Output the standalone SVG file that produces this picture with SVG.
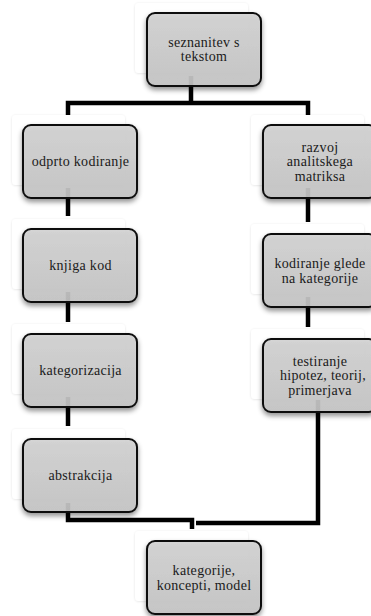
<svg xmlns="http://www.w3.org/2000/svg" width="371" height="616" viewBox="0 0 371 616">
<defs>
<linearGradient id="g" x1="0" y1="0" x2="0" y2="1">
<stop offset="0" stop-color="#d3d3d3"/>
<stop offset="1" stop-color="#c5c5c5"/>
</linearGradient>
<filter id="sh" x="-20%" y="-20%" width="140%" height="150%">
<feDropShadow dx="0" dy="3" stdDeviation="2.5" flood-color="#000" flood-opacity="0.45"/>
</filter>
<filter id="csh" x="-20%" y="-20%" width="140%" height="140%">
<feDropShadow dx="0" dy="0.5" stdDeviation="1.2" flood-color="#000" flood-opacity="0.12"/>
</filter>
</defs>
<style>
.card{fill:#ffffff;filter:url(#csh)}
.box{fill:url(#g);fill-opacity:0.9;stroke:#111;stroke-width:2;filter:url(#sh)}
text{font-family:'Liberation Serif','DejaVu Serif',serif;font-size:14px;letter-spacing:0.3px;fill:#1a1a1a;text-anchor:middle}
.con{fill:none;stroke:#000;stroke-width:4.5;stroke-linejoin:miter;stroke-linecap:butt}
</style>
<rect width="371" height="616" fill="#fff"/>
<g id="connectors">
<path class="con" d="M191,76 V103"/>
<path class="con" d="M68,115 V103 H308 V115"/>
<path class="con" d="M68,188 V216"/>
<path class="con" d="M68,292 V322"/>
<path class="con" d="M68,397 V426"/>
<path class="con" d="M308,188 V222"/>
<path class="con" d="M308,297 V327"/>
<path class="con" d="M68,503 V520 H192 V529"/>
<path class="con" d="M318,400 V523 H196"/>
</g>
<g font-family="Liberation Serif, serif">
<g id="n-seznanitev">
<rect class="card" x="135" y="3" width="113" height="70" rx="4"/>
<rect class="box" x="147" y="13" width="114" height="73" rx="8"/>
<text x="204" y="46.5">seznanitev s</text>
<text x="204" y="61">tekstom</text>
</g>
<g id="n-odprto">
<rect class="card" x="12" y="115" width="113" height="70" rx="4"/>
<rect class="box" x="23" y="125" width="114" height="73" rx="8"/>
<text x="80.5" y="166">odprto kodiranje</text>
</g>
<g id="n-razvoj">
<rect class="card" x="251" y="115" width="113" height="70" rx="4"/>
<rect class="box" x="263" y="125" width="114" height="73" rx="8"/>
<text x="320" y="151.5">razvoj</text>
<text x="320" y="166">analitskega</text>
<text x="320" y="180.5">matriksa</text>
</g>
<g id="n-knjiga">
<rect class="card" x="12" y="219" width="113" height="70" rx="4"/>
<rect class="box" x="23" y="229" width="114" height="73" rx="8"/>
<text x="80.5" y="270">knjiga kod</text>
</g>
<g id="n-kodiranje">
<rect class="card" x="251" y="224" width="113" height="70" rx="4"/>
<rect class="box" x="263" y="234" width="114" height="73" rx="8"/>
<text x="320" y="268">kodiranje glede</text>
<text x="320" y="282.5">na kategorije</text>
</g>
<g id="n-kategorizacija">
<rect class="card" x="12" y="324" width="113" height="70" rx="4"/>
<rect class="box" x="23" y="334" width="114" height="73" rx="8"/>
<text x="80.5" y="375">kategorizacija</text>
</g>
<g id="n-testiranje">
<rect class="card" x="251" y="329" width="113" height="70" rx="4"/>
<rect class="box" x="263" y="339" width="114" height="73" rx="8"/>
<text x="320" y="365.5">testiranje</text>
<text x="323" y="380">hipotez, teorij,</text>
<text x="320" y="394.5">primerjava</text>
</g>
<g id="n-abstrakcija">
<rect class="card" x="12" y="429" width="113" height="70" rx="4"/>
<rect class="box" x="23" y="439" width="114" height="73" rx="8"/>
<text x="80.5" y="480">abstrakcija</text>
</g>
<g id="n-kategorije">
<rect class="card" x="135" y="531" width="113" height="70" rx="4"/>
<rect class="box" x="147" y="541" width="114" height="73" rx="8"/>
<text x="204" y="575">kategorije,</text>
<text x="204" y="589.5">koncepti, model</text>
</g>
</g>
</svg>
